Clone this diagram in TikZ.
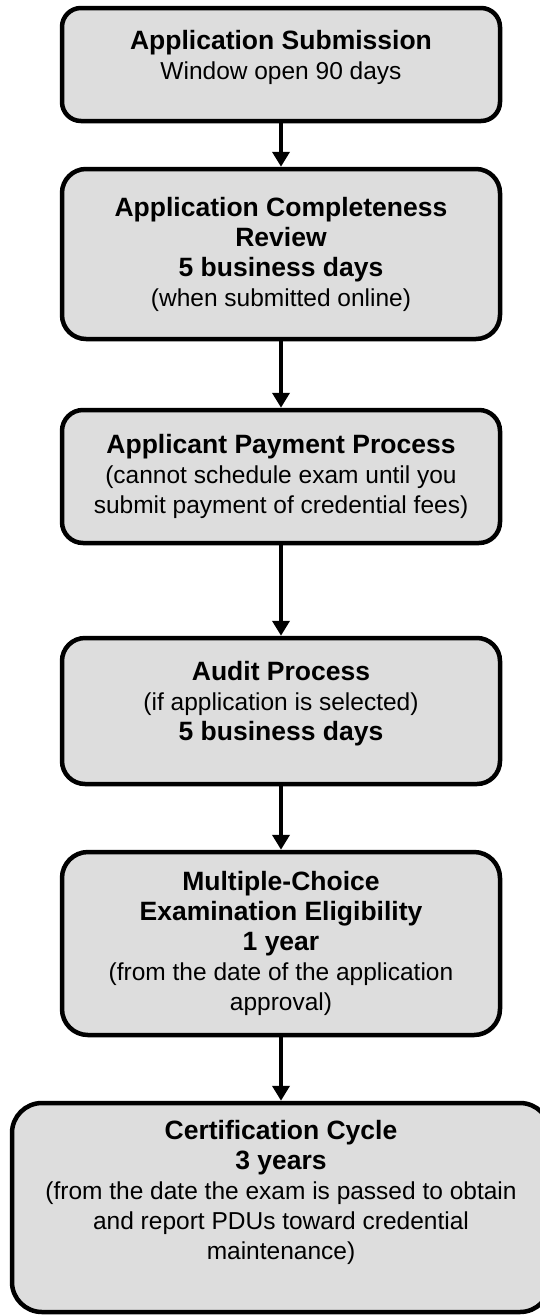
\documentclass[tikz,border=0pt]{standalone}
\usepackage{fontspec}
\setmainfont{Liberation Sans}
\usetikzlibrary{arrows.meta}
\definecolor{boxfill}{RGB}{221,221,221}
\newcommand{\hd}[1]{{\fontsize{26.5}{30}\selectfont\bfseries #1}}

\begin{document}
\begin{tikzpicture}[
        x=1pt, y=-1pt,
        stage/.style={draw, line width=4.5pt, fill=boxfill, rounded corners=#1, minimum width=438pt,
            align=center, inner sep=0pt, font=\fontsize{24.5}{30}\selectfont},
        stage/.default=20pt,
        flow/.style={draw, line width=4.5pt, -{Triangle[length=15pt, width=17pt]}}
    ]
        \useasboundingbox (0,0) rectangle (540,1315);
        \node[stage=19pt, minimum height=113pt, text depth=20pt] (submit) at (281,64.5)
            {\hd{Application Submission}\\Window open 90 days};
        \node[stage=24pt, minimum height=170pt] (review) at (281,254)
            {\hd{Application Completeness}\\\hd{Review}\\\hd{5 business days}\\(when submitted online)};
        \node[stage=21pt, minimum height=133pt] (payment) at (281,476.5)
            {\hd{Applicant Payment Process}\\(cannot schedule exam until you\\submit payment of credential fees)};
        \node[stage=23pt, minimum height=146pt, text depth=20pt] (audit) at (281,711)
            {\hd{Audit Process}\\(if application is selected)\\\hd{5 business days}};
        \node[stage=26pt, minimum height=183pt] (exam) at (281,943.5)
            {\hd{Multiple-Choice}\\\hd{Examination Eligibility}\\\hd{1 year}\\(from the date of the application\\approval)};
        \node[stage=30pt, minimum width=538pt, minimum height=209pt, text depth=35pt] (cycle) at (281,1207.5)
            {\hd{Certification Cycle}\\\hd{3 years}\\(from the date the exam is passed to obtain\\and report PDUs toward credential\\maintenance)};
        \draw[flow] (submit) -- (review);
        \draw[flow] (review) -- (payment);
        \draw[flow] (payment) -- (audit);
        \draw[flow] (audit) -- (exam);
        \draw[flow] (exam) -- (cycle);
    \end{tikzpicture}
\end{document}
